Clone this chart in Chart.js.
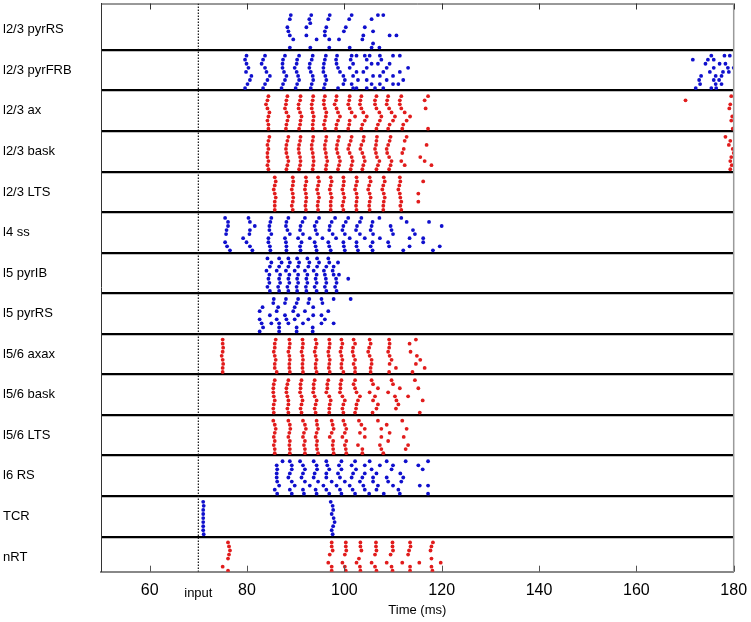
<!DOCTYPE html>
<html><head><meta charset="utf-8">
<script src="https://cdn.jsdelivr.net/npm/chart.js@4/dist/chart.umd.min.js"></script>
<style>html,body{margin:0;padding:0;background:#fff;}canvas{display:block;}</style>
</head><body>
<canvas id="c" width="751" height="622"></canvas>
<script>
// ---------------- DATA ----------------
const rowNames = ['l2/3 pyrRS','l2/3 pyrFRB','l2/3 ax','l2/3 bask','l2/3 LTS','l4 ss','l5 pyrIB','l5 pyrRS','l5/6 axax','l5/6 bask','l5/6 LTS','l6 RS','TCR','nRT'];
const rowKind = ['exc','exc','inh','inh','inh','exc','exc','exc','inh','inh','inh','exc','exc','inh'];
const xTickValues = [60, 70, 80, 100, 120, 140, 160, 180];
const inputTime = 70;
const inputLabel = 'input';
const xAxisTitle = 'Time (ms)';

// spike times (ms) per cell (9 cells per population, top to bottom)
const spikes_L23pyrRS = [
  [89.0, 93.2, 97.0, 101.5, 106.9, 108.0],
  [88.8, 92.8, 96.7, 101.0, 105.6],
  [93.0],
  [88.3, 92.2, 96.3, 100.3, 104.2],
  [88.5, 96.0, 99.9, 105.9],
  [88.8, 92.2, 96.0, 103.9, 109.3, 110.7],
  [89.5, 94.3, 96.9, 98.9, 103.7],
  [105.9],
  [88.8, 93.0, 96.9, 101.1, 105.6, 107.2]
];
const spikes_L23pyrFRB = [
  [79.9, 83.7, 87.8, 90.7, 93.5, 96.2, 98.5, 101.5, 102.5, 104.2, 105.2, 107.3, 110.0, 111.4, 175.4, 178.1, 179.2],
  [79.6, 83.3, 87.4, 90.3, 93.3, 96.0, 98.3, 101.3, 104.6, 107.6, 171.6, 174.7, 175.9],
  [79.9, 83.0, 87.3, 90.2, 92.9, 95.8, 98.4, 101.8, 105.6, 106.9, 109.3, 174.2, 177.1, 178.3],
  [80.3, 83.7, 87.3, 89.8, 92.8, 95.7, 98.7, 101.1, 104.6, 108.7, 113.1, 175.9, 178.8, 180.0],
  [79.8, 84.0, 87.6, 90.2, 93.1, 95.7, 99.1, 102.5, 103.9, 108.0, 111.4, 175.1, 177.8, 179.0],
  [80.9, 84.7, 88.1, 90.5, 93.5, 96.1, 99.8, 101.8, 105.9, 107.3, 110.0, 173.3, 176.3, 177.5],
  [80.6, 84.2, 87.8, 90.7, 93.6, 96.3, 100.1, 102.8, 104.6, 108.7, 112.1, 172.9, 175.9, 177.0],
  [80.1, 83.7, 87.4, 90.3, 93.3, 96.0, 99.8, 101.5, 105.6, 107.3, 110.0, 111.1, 173.1, 176.3, 177.5],
  [79.6, 83.3, 87.1, 90.0, 93.1, 95.8, 98.7, 101.8, 102.5, 104.6, 106.3, 108.0, 172.2, 175.4, 176.4]
];
const spikes_L23ax = [
  [84.4, 88.3, 91.0, 93.6, 96.0, 98.4, 101.1, 103.5, 106.6, 109.0, 111.7, 117.2, 179.5],
  [84.2, 88.1, 90.9, 93.5, 95.8, 98.3, 101.0, 103.3, 106.3, 108.8, 111.4, 116.5, 170.1],
  [83.9, 88.0, 90.6, 93.3, 95.8, 98.0, 100.8, 103.2, 106.3, 108.7, 111.4, 179.3],
  [84.2, 87.8, 90.6, 93.3, 96.0, 98.4, 101.1, 103.5, 106.6, 109.2, 111.7, 116.7, 179.1],
  [84.6, 88.1, 90.9, 93.5, 96.3, 98.7, 101.5, 103.9, 107.2, 109.7, 112.4],
  [84.4, 88.5, 91.2, 93.7, 96.2, 99.1, 102.2, 104.6, 107.6, 110.4, 113.5, 179.7],
  [84.2, 88.3, 91.0, 93.6, 96.0, 98.7, 101.1, 104.2, 107.3, 110.0, 112.8, 179.5],
  [84.4, 88.1, 90.9, 93.5, 95.8, 98.4, 101.0, 103.7, 106.9, 109.3, 112.1],
  [84.4, 88.0, 90.7, 93.5, 96.0, 98.3, 100.8, 103.5, 106.6, 109.0, 111.9, 117.2, 179.8]
];
const spikes_L23bask = [
  [84.6, 88.5, 91.0, 93.6, 96.3, 98.9, 101.5, 104.0, 106.7, 109.5, 112.8, 178.3],
  [84.4, 88.3, 90.9, 93.5, 96.2, 98.7, 101.3, 103.9, 106.6, 109.3, 112.4, 179.3],
  [84.2, 88.1, 90.7, 93.3, 96.0, 98.5, 101.0, 103.5, 106.5, 109.0, 116.9, 179.0],
  [84.4, 88.0, 90.6, 93.3, 96.0, 98.4, 100.8, 103.3, 106.3, 108.7, 112.2, 179.8],
  [84.2, 88.1, 90.7, 93.5, 96.2, 98.6, 101.1, 103.7, 106.5, 108.8, 111.9, 180.0],
  [84.2, 88.3, 90.9, 93.6, 96.3, 98.9, 101.5, 104.0, 106.7, 109.2, 115.6, 179.5],
  [84.4, 88.5, 91.0, 93.7, 96.5, 99.1, 101.7, 104.2, 107.2, 109.7, 111.7, 116.5, 179.3],
  [84.2, 88.3, 90.9, 93.6, 96.3, 98.9, 101.5, 103.9, 106.9, 109.5, 112.4, 117.9, 179.6],
  [84.4, 88.1, 90.7, 93.5, 96.2, 98.7, 101.3, 103.7, 106.6, 109.2, 179.3]
];
const spikes_L23LTS = [
  [85.7, 89.4, 92.1, 94.6, 97.2, 99.8, 102.5, 105.2, 108.1, 111.4],
  [85.9, 89.5, 92.2, 94.8, 97.4, 99.9, 102.6, 105.4, 108.3, 111.5, 116.2],
  [85.7, 89.4, 92.0, 94.6, 97.2, 99.8, 102.4, 105.1, 108.0, 111.3],
  [85.5, 89.2, 91.9, 94.4, 97.0, 99.6, 102.2, 104.9, 107.8, 111.1],
  [85.7, 89.4, 92.1, 94.6, 97.2, 99.8, 102.5, 105.2, 108.1, 111.4, 115.2],
  [85.9, 89.5, 92.2, 94.8, 97.4, 100.0, 102.6, 105.4, 108.3, 111.5],
  [85.7, 89.4, 92.1, 94.6, 97.2, 99.8, 102.5, 105.2, 108.1, 111.7, 115.2],
  [85.7, 89.2, 92.0, 94.5, 97.2, 99.6, 102.4, 105.1, 108.0, 111.5],
  [85.7, 89.4, 92.1, 94.6, 97.2, 99.8, 102.5, 105.2, 108.0, 111.7]
];
const spikes_L4ss = [
  [75.5, 80.3, 85.0, 88.5, 91.9, 94.8, 98.1, 100.8, 103.5, 107.2, 111.7],
  [76.1, 80.6, 84.8, 88.1, 91.4, 94.3, 97.4, 100.3, 103.2, 105.8, 112.8, 117.4],
  [76.1, 81.6, 84.6, 88.0, 91.0, 93.9, 97.0, 99.8, 102.6, 105.6, 109.5, 120.0],
  [75.8, 80.6, 84.6, 88.3, 90.9, 94.1, 96.9, 99.6, 102.4, 105.4, 109.7, 114.1],
  [75.7, 80.5, 85.0, 88.8, 91.5, 94.4, 97.6, 100.1, 103.2, 105.9, 110.0, 114.5],
  [79.2, 84.4, 87.8, 90.5, 92.9, 95.5, 98.3, 101.1, 104.2, 107.3, 113.4, 116.2],
  [75.5, 79.9, 84.4, 88.0, 91.2, 93.9, 96.7, 99.8, 102.5, 105.8, 109.0, 116.2],
  [75.9, 80.6, 84.7, 88.1, 90.9, 94.1, 96.9, 99.9, 102.5, 105.4, 109.2, 113.4, 119.6],
  [76.5, 81.1, 84.8, 88.1, 91.0, 94.3, 97.2, 100.1, 102.8, 105.8, 112.1, 118.2]
];
const spikes_L5pyrIB = [
  [84.2, 86.6, 88.5, 90.3, 92.4, 94.4, 96.7],
  [85.0, 87.1, 88.8, 90.7, 92.8, 94.8, 96.9, 98.7],
  [84.7, 86.6, 88.5, 90.5, 92.6, 94.4, 96.3, 97.8],
  [84.0, 86.1, 88.0, 89.8, 91.9, 93.7, 95.8, 97.6],
  [84.6, 86.8, 88.7, 90.5, 92.4, 94.3, 96.0, 97.8, 98.9],
  [84.4, 86.6, 88.5, 90.3, 92.2, 94.1, 96.2, 98.3, 100.8],
  [84.6, 86.8, 88.7, 90.5, 92.4, 94.3, 96.3, 98.4],
  [84.2, 86.4, 88.3, 90.2, 92.1, 93.9, 96.0, 98.1],
  [84.7, 86.6, 88.5, 90.3, 92.2, 94.3, 96.3, 98.4]
];
const spikes_L5pyrRS = [
  [85.5, 88.0, 90.5, 92.8, 95.3, 97.8, 101.3],
  [85.4, 87.8, 90.2, 92.6, 95.5],
  [83.2, 86.4, 89.8, 93.6],
  [82.6, 86.1, 89.5, 91.9, 96.7],
  [84.7, 87.8, 90.5, 93.6, 95.3],
  [82.6, 86.1, 88.1, 89.8, 92.6, 96.0],
  [83.0, 85.0, 86.6, 88.5, 91.5, 95.3, 97.8],
  [83.3, 86.6, 90.2, 93.5],
  [82.6, 86.6, 90.2, 93.5]
];
const spikes_L56axax = [
  [75.0, 85.9, 88.7, 91.4, 94.1, 96.9, 99.4, 101.9, 105.2, 109.2, 114.7],
  [75.0, 85.7, 88.8, 91.5, 94.3, 97.0, 99.6, 102.2, 105.4, 109.3, 113.4],
  [75.1, 85.7, 88.7, 91.4, 94.1, 96.9, 99.4, 101.8, 105.1, 109.2],
  [75.0, 85.5, 88.5, 91.2, 93.9, 96.7, 99.2, 101.7, 104.9, 109.0, 113.6],
  [74.8, 85.7, 88.7, 91.4, 94.1, 96.8, 99.4, 101.9, 105.2, 109.3, 114.9],
  [75.0, 85.9, 88.8, 91.5, 94.3, 97.0, 99.6, 102.2, 105.6, 109.7, 115.6],
  [75.1, 85.7, 88.7, 91.4, 94.1, 96.9, 99.4, 101.9, 105.6, 109.3, 114.7],
  [75.0, 85.7, 88.7, 91.4, 94.1, 96.8, 99.4, 102.2, 105.4, 110.6, 116.5],
  [75.0, 86.1, 88.8, 91.5, 94.3, 97.0, 99.8, 102.2, 105.4, 109.2, 114.0]
];
const spikes_L56bask = [
  [85.7, 88.5, 91.2, 93.9, 96.7, 99.4, 102.2, 105.6, 109.7, 114.5],
  [85.5, 88.3, 91.0, 93.7, 96.5, 99.2, 101.9, 105.9, 110.0],
  [85.4, 88.1, 91.0, 93.7, 96.5, 99.2, 102.2, 106.9, 111.4, 115.2],
  [85.4, 88.1, 90.9, 93.6, 96.3, 99.1, 102.5, 105.2, 109.0],
  [85.5, 88.3, 91.2, 93.9, 96.9, 99.6, 103.2, 106.3, 110.4, 113.1],
  [85.7, 88.5, 91.4, 94.3, 97.2, 100.1, 102.8, 105.9, 110.7, 116.1],
  [85.5, 88.5, 91.2, 94.1, 97.0, 99.8, 102.5, 106.9, 111.1],
  [85.4, 88.3, 91.0, 93.9, 96.9, 99.6, 102.4, 106.6, 110.6],
  [85.5, 88.5, 91.2, 94.1, 96.9, 99.8, 102.2, 105.8, 115.5]
];
const spikes_L56LTS = [
  [85.4, 88.5, 91.5, 94.3, 97.4, 99.8, 103.0, 106.9, 111.9],
  [85.7, 88.8, 91.9, 94.4, 97.6, 100.1, 103.5, 108.7],
  [85.9, 88.9, 92.1, 94.6, 97.8, 100.4, 104.2, 107.6, 112.8],
  [85.7, 88.7, 91.7, 94.3, 97.4, 100.1, 103.2, 109.3],
  [85.5, 88.5, 91.5, 94.1, 97.0, 99.6, 104.2, 107.6, 112.2],
  [85.7, 88.8, 91.9, 94.4, 97.7, 100.4, 109.0],
  [85.5, 88.7, 91.7, 94.3, 97.6, 100.1, 102.8, 107.3, 113.1],
  [85.7, 88.8, 91.9, 94.4, 97.7, 100.3, 103.7, 107.6, 112.6],
  [85.7, 88.8, 91.9, 94.6, 97.8, 100.4, 103.7, 108.0]
];
const spikes_L6RS = [
  [87.3, 88.8, 90.9, 93.7, 96.3, 99.4, 102.2, 105.2, 108.7, 112.6, 117.2],
  [86.1, 89.2, 91.5, 94.3, 96.5, 98.9, 101.5, 104.2, 107.3, 110.0, 115.2],
  [86.2, 89.2, 91.9, 94.4, 96.9, 99.4, 102.4, 105.6, 109.7, 116.1],
  [86.1, 88.8, 91.5, 93.9, 96.3, 98.7, 101.8, 104.2, 106.6, 111.5],
  [86.1, 88.5, 91.2, 93.7, 96.3, 99.1, 101.5, 103.7, 105.9, 108.7, 112.1],
  [86.2, 89.2, 91.9, 94.6, 97.4, 100.1, 103.2, 105.9, 109.0, 111.7],
  [86.6, 89.8, 92.9, 95.7, 98.4, 101.1, 103.9, 106.9, 110.0, 115.5, 117.2],
  [85.7, 88.8, 91.5, 94.1, 96.3, 99.1, 101.7, 104.2, 106.6, 111.1],
  [86.2, 89.2, 91.7, 94.3, 96.9, 99.4, 102.2, 105.1, 108.1, 111.4, 117.2]
];
const spikes_TCR = [
  [71.0, 97.2], [71.1, 97.6], [71.0, 97.7], [71.0, 97.4], [71.0, 97.8],
  [71.0, 98.0], [71.0, 97.7], [71.0, 97.4], [71.1, 97.6]
];
const spikes_nRT = [
  [76.1, 97.4, 100.3, 103.3, 106.5, 109.9, 113.5, 118.2],
  [76.3, 97.4, 100.3, 103.3, 106.5, 109.9, 113.6, 117.9],
  [76.5, 97.6, 100.4, 103.5, 106.6, 110.0, 113.3, 117.7],
  [76.3, 97.0, 100.1, 106.3, 109.5, 113.1],
  [76.1, 103.0, 117.9],
  [96.7, 99.6, 102.5, 105.6, 108.7, 111.9, 115.4, 119.8],
  [75.0, 97.4, 100.1, 103.2, 106.3, 109.7, 113.5, 117.9],
  [76.1, 97.4, 100.3, 103.3, 106.6, 109.9, 113.5, 118.1],
  []
];
const populations = [spikes_L23pyrRS, spikes_L23pyrFRB, spikes_L23ax, spikes_L23bask, spikes_L23LTS,
  spikes_L4ss, spikes_L5pyrIB, spikes_L5pyrRS, spikes_L56axax, spikes_L56bask, spikes_L56LTS,
  spikes_L6RS, spikes_TCR, spikes_nRT];

// ---------------- STYLE / LAYOUT ----------------
const FONT = "'Liberation Sans', Arial, Helvetica, sans-serif";
const COLORS = { exc: 'rgb(15,15,205)', inh: 'rgb(225,28,28)' };
const Y_MIN = -0.146, Y_MAX = 13.863;
const CELL_OFFSET = 0.14, CELL_STEP = 0.1;

Chart.defaults.font.family = FONT;

const datasets = populations.map((cells, r) => ({
  type: 'scatter',
  label: rowNames[r],
  data: cells.flatMap((times, k) => times.map(t => ({ x: t, y: r + CELL_OFFSET + CELL_STEP * k }))),
  pointBackgroundColor: COLORS[rowKind[r]],
  pointBorderColor: COLORS[rowKind[r]],
  pointBorderWidth: 0,
  pointRadius: 1.9,
  pointHoverRadius: 1.9,
  showLine: false
}));
datasets.push({
  type: 'line',
  label: inputLabel,
  data: [{ x: inputTime, y: Y_MIN }, { x: inputTime, y: Y_MAX }],
  borderColor: '#111',
  borderWidth: 1.2,
  borderDash: [1.5, 1.5],
  pointRadius: 0,
  fill: false
});

const framePlugin = {
  id: 'frame',
  afterDatasetsDraw(chart) {
    const { ctx, chartArea: a, scales: { x } } = chart;
    ctx.save();
    ctx.lineWidth = 1;
    ctx.strokeStyle = '#333';
    ctx.beginPath(); ctx.moveTo(a.left, a.top + 0.5); ctx.lineTo(a.right, a.top + 0.5); ctx.stroke();
    ctx.strokeStyle = '#9a9a9a'; ctx.lineWidth = 1.5;
    ctx.beginPath(); ctx.moveTo(a.right, a.top); ctx.lineTo(a.right, a.bottom); ctx.stroke();
    x.ticks.forEach(t => {
      if (t.value === inputTime) return;
      const px = Math.round(x.getPixelForValue(t.value)) + 0.5;
      ctx.lineWidth = 1;
      ctx.strokeStyle = '#333';
      ctx.beginPath(); ctx.moveTo(px, a.top); ctx.lineTo(px, a.top + 6); ctx.stroke();
      ctx.strokeStyle = '#555';
      ctx.beginPath(); ctx.moveTo(px, a.bottom); ctx.lineTo(px, a.bottom - 6); ctx.stroke();
    });
    ctx.restore();
  }
};

new Chart(document.getElementById('c'), {
  type: 'scatter',
  data: { datasets },
  plugins: [framePlugin],
  options: {
    responsive: false,
    animation: false,
    devicePixelRatio: 1,
    events: [],
    layout: { padding: { left: 3, right: 17.3, top: 3.5, bottom: 0 } },
    plugins: { legend: { display: false }, tooltip: { enabled: false } },
    scales: {
      x: {
        type: 'linear', min: 50, max: 180,
        afterBuildTicks: s => { s.ticks = xTickValues.map(v => ({ value: v })); },
        afterFit: s => { s.height = 50.3; s.paddingLeft = 0; s.paddingRight = 0; },
        grid: { display: true, drawOnChartArea: false, drawTicks: false },
        border: { display: true, color: '#888', width: 2 },
        ticks: {
          autoSkip: false, maxRotation: 0, padding: 9, color: '#000',
          callback: v => (v === inputTime ? inputLabel : String(v)),
          font: c => (c.tick && c.tick.value === inputTime)
            ? { size: 13, family: FONT, lineHeight: 2.0 }
            : { size: 16, family: FONT, lineHeight: 1.2 }
        },
        title: { display: true, text: xAxisTitle, color: '#000', font: { size: 13, family: FONT }, padding: { top: 0, bottom: 4 } }
      },
      y: {
        type: 'linear', min: Y_MIN, max: Y_MAX, reverse: true,
        afterBuildTicks: s => {
          const t = [];
          for (let i = 0; i < rowNames.length; i++) {
            t.push({ value: i + 0.5 });
            if (i + 1 < rowNames.length) t.push({ value: i + 1 });
          }
          s.ticks = t;
        },
        afterFit: s => { s.width = 98; s.paddingTop = 0; s.paddingBottom = 0; },
        grid: {
          drawTicks: false,
          color: c => (c.tick && Number.isInteger(c.tick.value)) ? '#000' : 'rgba(0,0,0,0)',
          lineWidth: c => (c.tick && Number.isInteger(c.tick.value)) ? 2.2 : 0
        },
        border: { display: true, color: '#333', width: 1 },
        ticks: {
          crossAlign: 'far', color: '#000', autoSkip: false,
          font: { size: 13, family: FONT },
          callback: v => Number.isInteger(v) ? '' : rowNames[Math.floor(v)]
        }
      }
    }
  }
});
</script>
</body></html>
